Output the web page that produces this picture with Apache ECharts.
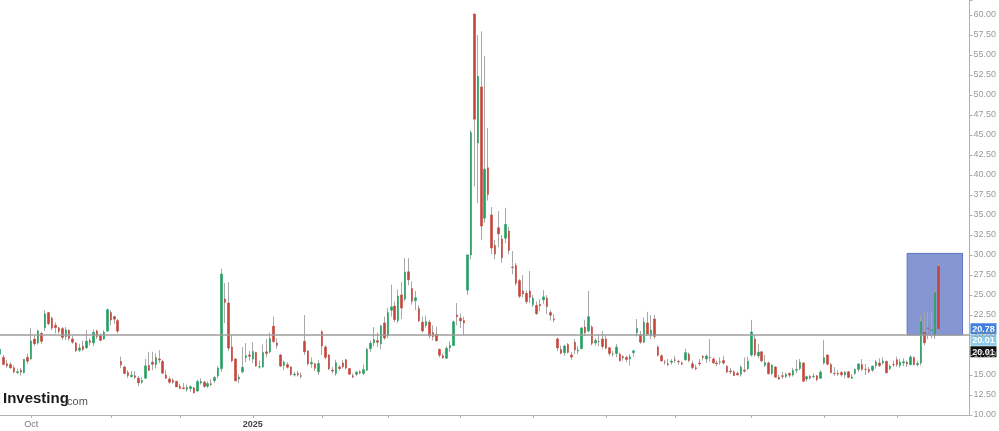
<!DOCTYPE html>
<html><head><meta charset="utf-8">
<script src="https://cdn.jsdelivr.net/npm/echarts@6/dist/echarts.min.js"></script>
<style>html,body{margin:0;padding:0;background:#fff}#c{width:999px;height:431px}</style>
</head><body><div id="c"></div>
<script>
// [date, open, high, low, close]
const candles2024 = [
['2024-09-18',17.6,19.4,17.2,18.23],['2024-09-19',17.2,17.5,16.2,16.33],['2024-09-20',16.4,16.9,15.9,16.15],
['2024-09-23',16.3,16.6,15.8,15.89],['2024-09-24',15.9,16.2,15.2,15.39],['2024-09-25',15.3,15.8,15.1,15.41],
['2024-09-26',15.6,15.9,14.9,15.37],['2024-09-27',15.3,17.0,15.2,16.96],['2024-09-30',17.2,17.7,16.4,16.73],
['2024-10-01',17.0,20.9,16.9,19.26],['2024-10-02',19.5,19.9,18.6,18.90],['2024-10-03',19.0,20.7,18.8,20.49],
['2024-10-04',20.2,20.4,18.9,19.21],['2024-10-07',20.9,23.1,20.5,22.64],['2024-10-08',22.8,22.9,21.2,21.42],
['2024-10-09',22.1,22.3,20.6,20.86],['2024-10-10',21.2,21.6,20.2,20.93],['2024-10-11',20.9,21.0,20.2,20.46],
['2024-10-14',20.8,21.0,19.4,19.70],['2024-10-15',19.8,21.0,19.4,20.64],['2024-10-16',20.6,20.7,19.3,19.58],
['2024-10-17',19.5,19.9,18.9,19.11],['2024-10-18',19.0,19.1,17.9,18.03],['2024-10-21',18.1,18.9,17.9,18.37],
['2024-10-22',18.6,19.3,18.0,18.20],['2024-10-23',18.4,20.6,18.3,19.24],['2024-10-24',19.3,19.6,18.7,19.08],
['2024-10-25',19.0,20.7,18.6,20.33],['2024-10-28',20.5,20.7,19.5,19.80],['2024-10-29',19.9,20.2,19.2,19.34],
['2024-10-30',19.5,20.6,19.4,20.35],['2024-10-31',20.5,23.3,20.4,23.16],['2024-11-01',22.8,23.1,21.2,21.88],
['2024-11-04',22.3,22.4,21.4,21.98],['2024-11-05',21.8,22.0,20.2,20.49],['2024-11-06',16.7,17.3,15.9,16.27],
['2024-11-07',16.0,16.1,15.1,15.20],['2024-11-08',15.3,15.6,14.6,14.94],['2024-11-11',14.8,15.5,14.7,14.97],
['2024-11-12',14.9,15.5,14.5,14.71],['2024-11-13',14.6,14.9,13.6,14.02],['2024-11-14',14.1,14.7,13.9,14.31],
['2024-11-15',14.6,17.0,14.5,16.14],['2024-11-18',16.2,17.9,15.5,15.58],['2024-11-19',16.6,17.9,15.6,16.35],
['2024-11-20',16.3,17.7,15.8,17.16],['2024-11-21',17.0,18.1,16.5,16.87],['2024-11-22',16.7,16.9,15.1,15.24],
['2024-11-25',15.0,15.6,14.5,14.60],['2024-11-26',14.5,14.8,13.9,14.10],['2024-11-27',14.3,14.6,13.9,14.10],
['2024-11-29',14.2,14.3,13.5,13.51],['2024-12-02',13.6,13.9,13.2,13.34],['2024-12-03',13.4,14.0,13.2,13.30],
['2024-12-04',13.2,13.8,12.9,13.45],['2024-12-05',13.3,13.7,12.9,13.54],['2024-12-06',13.4,13.5,12.7,12.77],
['2024-12-09',13.0,14.4,12.9,14.19],['2024-12-10',14.0,14.6,13.8,14.18],['2024-12-11',14.1,14.3,13.4,13.58],
['2024-12-12',13.6,14.2,13.4,13.92],['2024-12-13',13.9,14.5,13.6,13.81],['2024-12-16',14.3,14.9,14.0,14.69],
['2024-12-17',14.9,16.1,14.6,15.87],['2024-12-18',15.8,28.3,15.4,27.62],['2024-12-19',24.5,26.5,21.5,24.09],
['2024-12-20',24.0,26.6,18.0,18.36],['2024-12-23',18.5,20.0,16.6,16.78],['2024-12-24',17.0,17.1,14.2,14.27],
['2024-12-26',14.5,15.1,14.0,14.73],['2024-12-27',15.4,18.5,15.2,15.95],['2024-12-30',17.2,19.0,16.6,17.40],
['2024-12-31',17.5,18.0,16.8,17.35]
];
const candles2025a = [
['2025-01-02',17.0,19.1,16.5,17.93],['2025-01-03',17.8,17.9,16.0,16.13],['2025-01-06',16.0,16.8,15.8,16.04],
['2025-01-07',16.0,18.8,15.9,17.82],['2025-01-08',17.9,19.5,17.2,17.70],['2025-01-10',17.9,20.3,17.7,19.54],
['2025-01-13',21.1,22.3,19.0,19.19],['2025-01-14',19.0,19.6,18.3,18.71],['2025-01-15',17.5,17.6,16.0,16.12],
['2025-01-16',16.2,16.8,15.6,16.60],['2025-01-17',16.3,16.6,15.8,15.97],['2025-01-21',16.0,16.1,14.9,15.06],
['2025-01-22',15.0,15.4,14.8,15.10],['2025-01-23',15.2,15.5,14.8,15.02],['2025-01-24',14.9,15.3,14.6,14.85],
['2025-01-27',19.2,22.5,17.5,17.90],['2025-01-28',18.0,18.1,16.2,16.41],['2025-01-29',16.4,17.2,15.9,16.56],
['2025-01-30',16.4,16.5,15.5,15.84],['2025-01-31',15.4,16.9,15.0,16.43],['2025-02-03',20.4,20.6,17.5,18.62],
['2025-02-04',18.5,18.7,17.0,17.21],['2025-02-05',17.5,17.6,15.6,15.77],['2025-02-06',15.6,16.0,15.2,15.50],
['2025-02-07',15.2,16.9,14.9,16.54],['2025-02-10',16.0,16.2,15.6,15.81],['2025-02-11',16.5,16.9,15.8,16.02],
['2025-02-12',16.9,17.0,15.7,15.89],['2025-02-13',15.8,15.9,15.0,15.10],['2025-02-14',14.9,15.2,14.6,14.77],
['2025-02-18',15.1,15.5,14.9,15.35],['2025-02-19',15.4,15.6,15.1,15.27],['2025-02-20',15.2,16.3,15.0,15.66],
['2025-02-21',15.6,18.4,15.5,18.21],['2025-02-24',18.3,19.3,17.9,18.98],['2025-02-25',19.0,21.0,18.6,19.43],
['2025-02-26',19.3,20.3,18.5,19.10],['2025-02-27',18.9,21.3,18.2,21.13],['2025-02-28',21.5,22.3,19.4,19.63],
['2025-03-03',19.9,23.4,19.6,22.78],['2025-03-04',23.1,26.3,22.3,23.51],['2025-03-05',23.6,24.2,21.6,21.93],
['2025-03-06',21.8,25.7,21.5,24.87],['2025-03-07',25.0,26.6,22.0,23.37],['2025-03-10',24.5,29.6,24.2,27.86],
['2025-03-11',27.9,29.6,26.2,26.92],['2025-03-12',25.8,26.7,23.8,24.23],['2025-03-13',24.3,25.5,23.1,24.66],
['2025-03-14',23.3,23.7,21.6,21.77],['2025-03-17',21.6,22.3,20.3,20.51],['2025-03-18',21.2,22.4,20.9,21.70],
['2025-03-19',21.6,21.9,19.6,19.90],['2025-03-20',20.3,21.2,19.3,19.80],['2025-03-21',20.1,21.0,19.2,19.28],
['2025-03-24',18.2,18.3,17.2,17.48],['2025-03-25',17.4,17.7,17.0,17.15],['2025-03-26',17.1,18.6,17.0,18.33],
['2025-03-27',18.4,19.2,17.9,18.69],['2025-03-28',18.7,21.8,18.6,21.65],['2025-03-31',22.5,24.0,21.2,22.28],
['2025-04-01',22.1,22.7,20.9,21.77],['2025-04-02',21.8,22.3,20.0,21.51],['2025-04-03',25.6,30.0,25.0,30.02],
['2025-04-04',30.0,45.6,29.5,45.31],['2025-04-07',60.13,60.13,38.58,46.98],['2025-04-08',44.0,57.5,36.5,52.33],
['2025-04-09',51.0,57.96,31.9,33.62],['2025-04-10',34.6,54.87,34.0,40.72],['2025-04-11',40.9,45.9,36.8,37.56],
['2025-04-14',35.0,36.0,30.1,30.89],['2025-04-15',31.2,31.9,29.5,30.12],['2025-04-16',33.4,35.5,31.0,32.64],
['2025-04-17',32.0,32.5,29.0,29.65],['2025-04-21',32.1,35.9,31.5,33.82],['2025-04-22',33.0,33.5,30.1,30.57],
['2025-04-23',28.5,30.5,27.6,28.45],['2025-04-24',28.7,29.0,26.2,26.47],['2025-04-25',26.8,27.0,24.6,24.84],
['2025-04-28',25.5,27.5,24.7,25.15],['2025-04-29',25.2,25.6,23.9,24.17],['2025-04-30',25.5,28.0,24.0,24.70]
];
const candles2025b = [
['2025-05-01',23.8,25.0,23.5,24.60],['2025-05-02',23.7,24.2,22.5,22.68],['2025-05-05',23.8,24.5,23.0,23.64],
['2025-05-06',24.4,25.6,23.9,24.76],['2025-05-07',24.6,25.0,22.6,23.55],['2025-05-08',22.8,23.1,21.8,22.48],
['2025-05-09',22.0,22.6,21.6,21.90],['2025-05-12',19.5,19.7,18.0,18.39],['2025-05-13',18.2,18.7,17.6,17.72],
['2025-05-14',17.8,18.8,17.4,18.62],['2025-05-15',18.8,19.0,17.7,17.83],['2025-05-16',17.5,17.9,16.9,17.24],
['2025-05-19',19.1,19.5,17.6,18.14],['2025-05-20',18.0,18.6,17.6,18.09],['2025-05-21',18.3,21.0,18.2,20.87],
['2025-05-22',21.0,21.9,19.9,20.28],['2025-05-23',20.5,25.5,20.3,22.29],['2025-05-27',21.0,21.2,18.7,18.96],
['2025-05-28',19.0,19.6,18.7,19.31],['2025-05-29',19.2,20.0,18.6,19.18],['2025-05-30',19.5,20.5,18.2,18.57],
['2025-06-02',19.5,19.9,18.2,18.36],['2025-06-03',18.4,18.5,17.4,17.69],['2025-06-04',17.6,18.0,17.3,17.61],
['2025-06-05',17.7,18.9,17.2,18.48],['2025-06-06',17.6,17.8,16.7,16.77],['2025-06-09',17.3,17.5,16.8,17.16],
['2025-06-10',17.2,17.4,16.6,16.95],['2025-06-11',17.0,17.6,16.2,17.26],['2025-06-12',17.8,18.1,17.3,18.02],
['2025-06-13',20.3,22.0,19.8,20.82],['2025-06-16',20.0,20.5,18.9,19.11],['2025-06-17',19.1,22.2,19.0,21.60],
['2025-06-18',21.5,22.9,19.9,20.14],['2025-06-20',20.0,22.5,19.5,20.62],['2025-06-23',22.0,22.5,19.5,19.83],
['2025-06-24',18.5,18.7,17.3,17.48],['2025-06-25',17.4,17.6,16.7,16.76],['2025-06-26',16.6,16.9,16.3,16.59],
['2025-06-27',16.4,17.0,16.1,16.32],['2025-06-30',16.6,17.0,16.3,16.73],['2025-07-01',16.9,17.4,16.5,16.83],
['2025-07-02',16.7,16.9,16.3,16.64],['2025-07-03',16.5,16.7,16.2,16.38],['2025-07-07',16.9,18.3,16.8,17.79],
['2025-07-08',17.6,17.8,16.6,16.81],['2025-07-09',16.4,16.8,15.7,15.94],['2025-07-10',15.9,16.3,15.6,15.78],
['2025-07-11',16.5,17.0,16.1,16.40],['2025-07-14',17.3,17.5,16.8,17.20],['2025-07-15',17.0,17.6,16.5,17.38],
['2025-07-16',17.2,19.5,16.7,17.16],['2025-07-17',17.0,17.2,16.4,16.52],['2025-07-18',16.5,16.8,16.1,16.41],
['2025-07-21',16.6,17.2,16.3,16.65],['2025-07-22',16.8,17.4,16.3,16.50],['2025-07-23',16.1,16.2,15.2,15.37],
['2025-07-24',15.5,15.9,15.1,15.39],['2025-07-25',15.4,15.6,14.9,14.93],['2025-07-28',15.2,15.4,14.9,15.03],
['2025-07-29',15.1,16.2,14.8,15.98],['2025-07-30',15.6,17.2,15.3,15.48],['2025-07-31',15.8,17.3,15.6,16.72],
['2025-08-01',17.5,21.9,17.3,20.38],['2025-08-04',19.5,20.0,17.3,17.52],['2025-08-05',17.4,18.9,17.1,17.85],
['2025-08-06',17.9,18.0,16.6,16.77],['2025-08-07',16.2,17.5,16.0,16.57],['2025-08-08',16.5,16.7,15.1,15.15],
['2025-08-11',15.2,16.3,15.0,16.25],['2025-08-12',16.0,16.1,14.7,14.73],['2025-08-13',14.7,15.0,14.4,14.49],
['2025-08-14',14.9,15.4,14.5,14.83],['2025-08-15',14.8,15.3,14.6,15.09],['2025-08-18',15.2,15.3,14.7,14.99],
['2025-08-19',15.0,15.9,14.8,15.57],['2025-08-20',15.6,16.9,15.2,15.69],['2025-08-21',15.8,17.0,15.6,16.60],
['2025-08-22',16.5,16.6,14.2,14.22],['2025-08-25',14.5,14.9,14.2,14.79],['2025-08-26',14.8,15.0,14.4,14.62],
['2025-08-27',14.8,15.2,14.6,14.85],['2025-08-28',14.9,15.0,14.2,14.43],['2025-08-29',14.6,15.6,14.5,15.36],
['2025-09-02',16.5,19.4,16.3,17.17],['2025-09-03',17.5,17.6,16.2,16.35],['2025-09-04',16.3,16.5,15.2,15.30],
['2025-09-05',15.2,16.0,14.9,15.18],['2025-09-08',15.2,15.6,14.9,15.11],['2025-09-09',15.3,15.5,14.8,15.04],
['2025-09-10',15.0,15.5,14.6,15.35],['2025-09-11',15.4,15.5,14.6,14.71],['2025-09-12',14.6,15.1,14.5,14.76],
['2025-09-15',15.2,15.8,15.0,15.69],['2025-09-16',15.7,16.5,15.4,16.36],['2025-09-17',16.3,17.0,15.5,15.72],
['2025-09-18',15.7,16.4,15.0,15.70],['2025-09-19',15.7,16.0,15.2,15.45],['2025-09-22',15.6,16.2,15.4,16.10],
['2025-09-23',16.2,16.9,15.8,16.64],['2025-09-24',16.5,17.1,16.0,16.18],['2025-09-25',16.5,17.2,16.3,16.74],
['2025-09-26',16.7,16.8,15.2,15.29],['2025-09-29',15.8,16.3,15.6,16.12],['2025-09-30',16.3,16.8,16.0,16.28],
['2025-10-01',16.9,17.3,16.0,16.29],['2025-10-02',16.2,17.0,15.9,16.63],['2025-10-03',16.5,17.1,16.1,16.65],
['2025-10-06',16.6,16.8,16.0,16.37],['2025-10-07',16.3,17.5,16.2,17.24],['2025-10-08',17.2,17.3,16.2,16.30],
['2025-10-09',16.3,16.8,16.1,16.43],['2025-10-10',16.5,22.4,16.2,21.66],['2025-10-13',20.3,22.9,18.7,19.03],
['2025-10-14',20.9,22.9,19.5,20.81],['2025-10-15',20.6,22.9,19.6,20.64],['2025-10-16',19.9,25.7,19.5,25.31],
['2025-10-17',28.6,28.99,20.6,20.78]
];
const futureDates = ['2025-10-20','2025-10-21','2025-10-22','2025-10-23','2025-10-24','2025-10-27','2025-10-28','2025-10-29','2025-10-30'];
const xLabels = {'2024-10-01':'Oct','2025-01-02':'2025'};
const yRange = [10, 61.875];
const yStep = 2.5;
const refLevel = 20.01;
const lastClose = 20.78;
const box = {from:'2025-10-06', to:'2025-10-28', low:20.01, high:30.2};

const candles = candles2024.concat(candles2025a, candles2025b);
const dates = candles.map(r => r[0]).concat(futureDates);
const wickData = candles.map(r => [r[1], r[4], r[3], r[2]]);
const bodyData = candles.map(r => [r[1], r[4], Math.min(r[1], r[4]), Math.max(r[1], r[4])]);
const monthStart = dates.map((d, i) => i > 0 && d.slice(0,7) !== dates[i-1].slice(0,7));

const GREEN = '#22a060', RED = '#c4453a', WICK = '#a8a8a8';
const chart = echarts.init(document.getElementById('c'), null, {renderer: 'canvas'});
chart.setOption({
  animation: false,
  backgroundColor: '#fff',
  grid: {left: 0, right: 26, top: 0, bottom: 16},
  xAxis: {
    type: 'category', data: dates, boundaryGap: false,
    axisLine: {lineStyle: {color: '#b0b0b0'}},
    axisTick: {show: true, length: 3, lineStyle: {color: '#b0b0b0'}, interval: (i) => monthStart[i]},
    axisLabel: {
      interval: (i, v) => xLabels[v] !== undefined, margin: 5,
      formatter: (v) => xLabels[v] === 'Oct' ? '{m|Oct}' : '{y|' + xLabels[v] + '}',
      rich: {m: {fontSize: 9, color: '#777', fontFamily: 'Arial, Liberation Sans'},
             y: {fontSize: 9, color: '#444', fontWeight: 'bold', fontFamily: 'Arial, Liberation Sans'}}
    },
    splitLine: {show: false}
  },
  yAxis: {
    type: 'value', position: 'right', min: yRange[0], max: yRange[1], interval: yStep,
    axisLine: {show: true, lineStyle: {color: '#b0b0b0'}},
    axisTick: {show: true, length: 3, lineStyle: {color: '#b0b0b0'}},
    axisLabel: {fontSize: 9, color: '#999', margin: 4, fontFamily: 'Arial, Liberation Sans',
      formatter: (v) => (Math.abs(v / yStep - Math.round(v / yStep)) < 1e-6) ? v.toFixed(2) : ''},
    splitLine: {show: false}
  },
  series: [
    {
      type: 'candlestick', name: 'wick', data: wickData, barWidth: 1,
      itemStyle: {color: WICK, color0: WICK, borderColor: WICK, borderColor0: WICK, borderWidth: 1},
      markArea: {
        silent: true,
        itemStyle: {color: 'rgb(134,150,210)', borderColor: '#5f72c2', borderWidth: 1},
        data: [[{xAxis: box.from, yAxis: box.high}, {xAxis: box.to, yAxis: box.low}]]
      }
    },
    {
      type: 'candlestick', name: 'body', data: bodyData, barWidth: 2,
      itemStyle: {color: GREEN, color0: RED, borderColor: GREEN, borderColor0: RED, borderWidth: 0.6},
      markLine: {
        silent: true, symbol: ['none', 'none'], label: {show: false},
        lineStyle: {color: '#9c9c9c', width: 1.5, type: 'solid'},
        data: [{yAxis: refLevel}]
      }
    }
  ]
});

const yL = chart.convertToPixel({yAxisIndex: 0}, lastClose);
const xR = chart.convertToPixel({xAxisIndex: 0}, dates[dates.length - 1]);
const tags = [
  {v: lastClose, bg: '#3f7fe0', fg: '#fff'},
  {v: refLevel, bg: '#8ecdea', fg: '#fff'},
  {v: refLevel, bg: '#111111', fg: '#fff'}
];
const graphics = tags.map((t, i) => ({
  type: 'group', x: xR + 1, y: yL - 5.5 + i * 11.5,
  children: [
    {type: 'rect', shape: {x: 0, y: 0, width: 26, height: 11}, style: {fill: t.bg}},
    {type: 'text', x: 13, y: 6, style: {text: t.v.toFixed(2), fill: t.fg, font: 'bold 9px Arial, Liberation Sans', align: 'center', verticalAlign: 'middle'}}
  ]
}));
graphics.push({type: 'text', left: 3, top: 391, style: {text: 'Investing', fill: '#1b1b1b', font: 'bold 15px Arial, Liberation Sans'}});
graphics.push({type: 'text', left: 64, top: 396, style: {text: '.com', fill: '#555', font: '11px Arial, Liberation Sans'}});
chart.setOption({graphic: graphics});
</script></body></html>
